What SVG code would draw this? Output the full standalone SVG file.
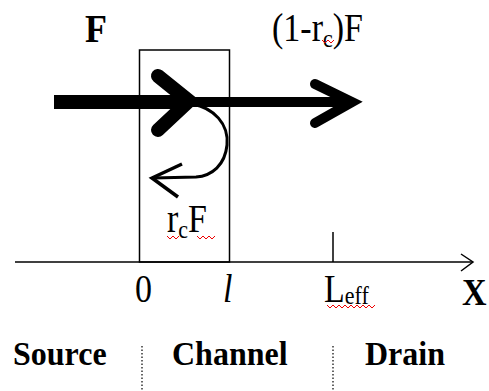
<svg xmlns="http://www.w3.org/2000/svg" width="489" height="391" viewBox="0 0 489 391">
<style>
.t{font-family:"Liberation Serif","Times New Roman",serif;fill:#000}
.b{font-weight:bold}
.sq{fill:none;stroke:#e00;stroke-width:1}
.thin{stroke:#000;stroke-width:1.5;fill:none}
</style>
<rect width="489" height="391" fill="#fff"/>
<g id="channel-box"><rect x="139.5" y="50" width="90" height="212" class="thin"/></g>
<g id="connectors">
<line x1="54" y1="102" x2="186" y2="102" stroke="#000" stroke-width="14"/>
<polyline points="158,76 189,101 158,130" fill="none" stroke="#000" stroke-width="14" stroke-linecap="round" stroke-linejoin="miter"/>
<line x1="186" y1="102" x2="350" y2="102" stroke="#000" stroke-width="10"/>
<polyline points="315,84 352,102 315,123" fill="none" stroke="#000" stroke-width="10" stroke-linecap="round"/>
<path d="M192,104 C214,108 229,124 227,145 C225,165 212,176 196,177 L153,178" fill="none" stroke="#000" stroke-width="3"/>
<polyline points="182,164 152,178 178,197" fill="none" stroke="#000" stroke-width="3.5"/>
<line x1="15" y1="262" x2="473" y2="262" class="thin"/>
<polyline points="461,254 473,262 461,271" class="thin"/>
<line x1="333" y1="232" x2="333" y2="262" class="thin"/>
<line x1="142" y1="346" x2="142" y2="391" stroke="#000" stroke-width="1.2" stroke-dasharray="1.5 2"/>
<line x1="333" y1="346" x2="333" y2="391" stroke="#000" stroke-width="1.2" stroke-dasharray="1.5 2"/>
</g>
<g id="labels">
<text class="t b" transform="translate(85,42) scale(1,1.13)" font-size="36">F</text>
<text class="t" transform="translate(272,41) scale(1,1.15)" font-size="34">(1-r<tspan font-size="22" dy="5">c</tspan><tspan dy="-5">)F</tspan></text>
<polyline class="sq" points="322,40 325,43 328,40 331,43 334,40"/>
<text class="t" transform="translate(167,232) scale(1,1.15)" font-size="34">r<tspan font-size="22" dy="5">c</tspan><tspan dy="-5">F</tspan></text>
<polyline class="sq" points="167,236 170,239 173,236 176,239 179,236"/>
<polyline class="sq" points="197,236 200,239 203,236 206,239 209,236 212,239 215,236"/>
<text class="t" transform="translate(135,302) scale(1,1.17)" font-size="34">0</text>
<text class="t" transform="translate(223,302) scale(1,1.17)" font-size="34" font-style="italic">l</text>
<text class="t" transform="translate(324,302) scale(1,1.15)" font-size="34">L<tspan font-size="22" dy="2">eff</tspan></text>
<polyline class="sq" points="327,305 330,308 333,305 336,308 339,305 342,308 345,305 348,308 351,305 354,308 357,305 360,308 363,305 366,308 369,305 372,308 375,305"/>
<text class="t b" transform="translate(462,305) scale(1,1.1)" font-size="34">X</text>
<text class="t b" transform="translate(13,365) scale(1,1.08)" font-size="32">Source</text>
<text class="t b" transform="translate(172,365) scale(1,1.08)" font-size="32">Channel</text>
<text class="t b" transform="translate(365,365) scale(1,1.08)" font-size="32">Drain</text>
</g>
</svg>
